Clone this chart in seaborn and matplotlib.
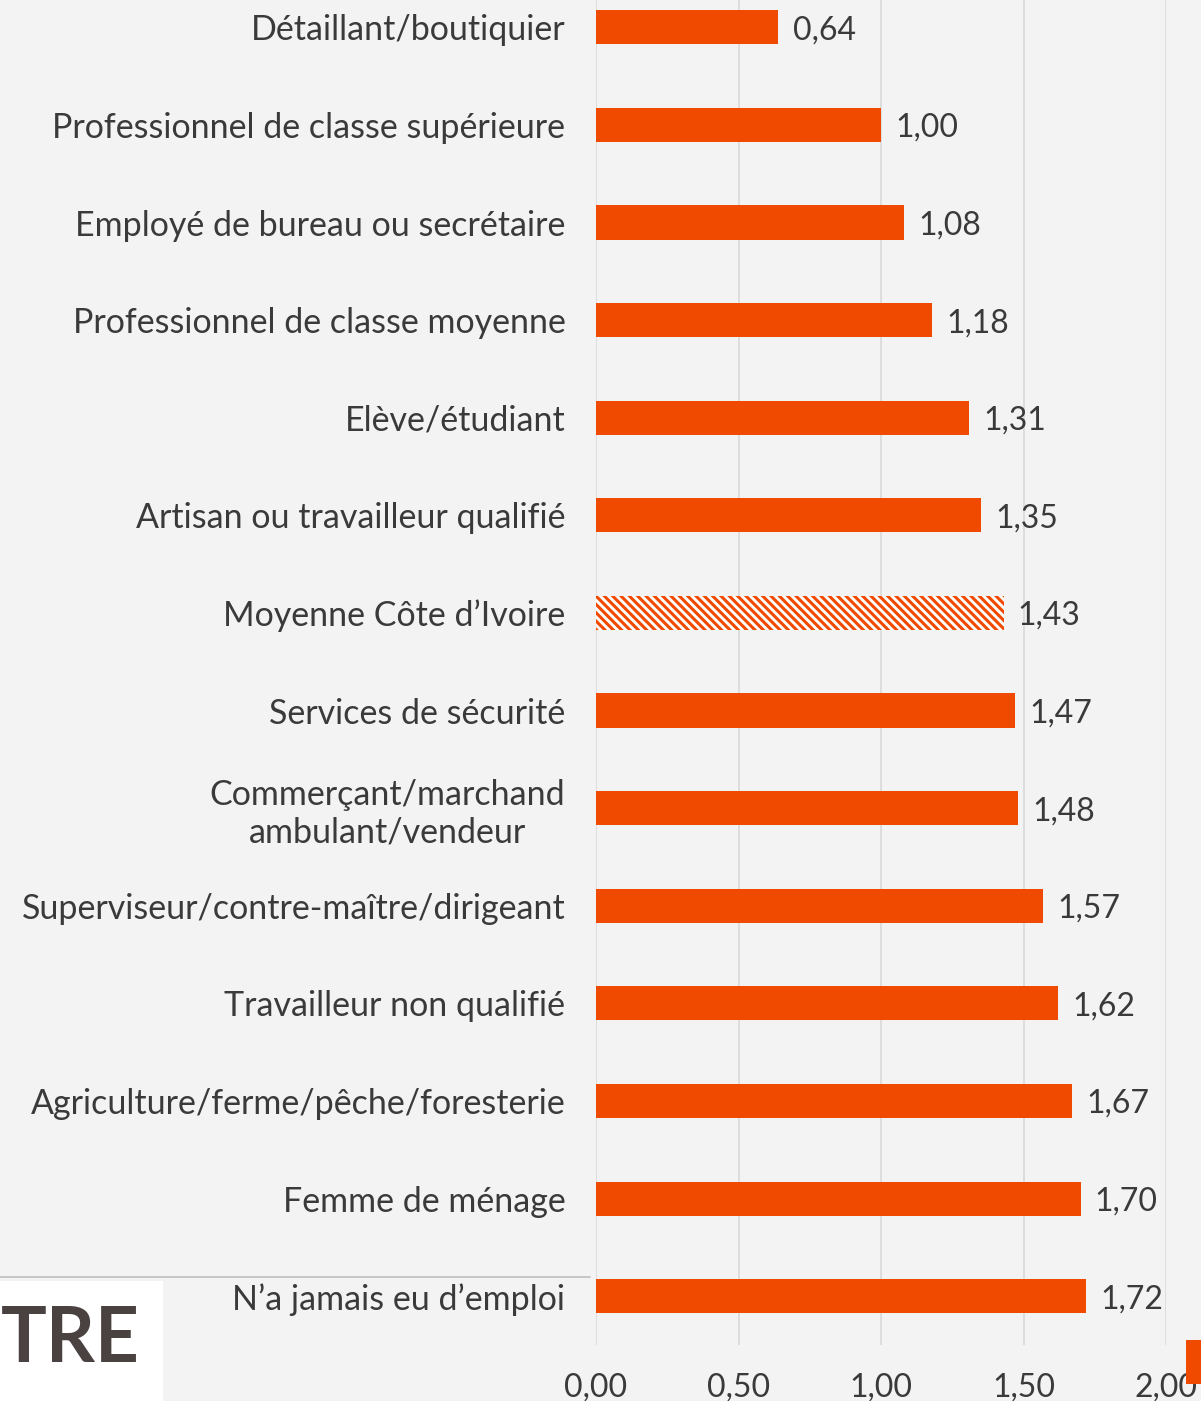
import matplotlib
matplotlib.use("Agg")
import matplotlib.pyplot as plt
import seaborn as sns
import pandas as pd

# Occupations, top to bottom
categories = [
    "Détaillant/boutiquier",
    "Professionnel de classe supérieure",
    "Employé de bureau ou secrétaire",
    "Professionnel de classe moyenne",
    "Elève/étudiant",
    "Artisan ou travailleur qualifié",
    "Moyenne Côte d’Ivoire",
    "Services de sécurité",
    "Commerçant/marchand\nambulant/vendeur",
    "Superviseur/contre-maître/dirigeant",
    "Travailleur non qualifié",
    "Agriculture/ferme/pêche/foresterie",
    "Femme de ménage",
    "N’a jamais eu d’emploi",
]
values = [0.64, 1.00, 1.08, 1.18, 1.31, 1.35, 1.43, 1.47, 1.48, 1.57, 1.62, 1.67, 1.70, 1.72]
average_label = "Moyenne Côte d’Ivoire"
xticks = [0.0, 0.5, 1.0, 1.5, 2.0]

df = pd.DataFrame({"Catégorie": categories, "Valeur": values})

sns.set_style("white")
plt.rcParams["font.family"] = ["Lato", "DejaVu Sans"]
plt.rcParams["hatch.linewidth"] = 2.2

orange = "#f04a00"
text_col = "#3a3a3a"
bg = "#f3f3f3"

fig = plt.figure(figsize=(12.01, 14.01), dpi=100, facecolor=bg)
ax = fig.add_axes([596 / 1201, 56 / 1401, 570 / 1201, 1 - 56 / 1401])
ax.set_facecolor(bg)

sns.barplot(data=df, x="Valeur", y="Catégorie", orient="h", color=orange,
            width=0.35, saturation=1, ax=ax)

for patch, cat in zip(ax.patches, categories):
    patch.set_edgecolor("none")
    if cat == average_label:
        patch.set_facecolor("white")
        patch.set_edgecolor(orange)
        patch.set_linewidth(0)
        patch.set_hatch("\\\\\\\\")

for i, v in enumerate(values):
    ax.text(v + 0.05, i + 0.03, f"{v:.2f}".replace(".", ","), va="center", ha="left",
            fontsize=23, color=text_col)

ax.set_xlim(0, 2)
ax.set_ylim(13.5, -0.28)
ax.set_xticks(xticks)
ax.set_xticklabels([f"{t:.2f}".replace(".", ",") for t in xticks], fontsize=23, color=text_col)
ax.tick_params(axis="x", length=0, pad=20)
ax.tick_params(axis="y", length=0, pad=22, labelsize=24.5, labelcolor=text_col)
for lab in ax.get_yticklabels():
    lab.set_multialignment("center")
ax.xaxis.grid(True, color="#d9d9d9", linewidth=1.2)
ax.set_axisbelow(True)
for s in ax.spines.values():
    s.set_visible(False)
ax.set_xlabel("")
ax.set_ylabel("")

# decorations: bottom-left logo box, separator line, small orange tab
fig.add_artist(plt.Line2D([0, 590 / 1201], [1 - 1277 / 1401] * 2, color="#bdbdbd", lw=1.2))
fig.add_artist(plt.Rectangle((0, 0), 163 / 1201, (1401 - 1281) / 1401, color="white", lw=0))
fig.text(1 / 1201, 1 - 1340 / 1401, "TRE", fontsize=55, fontweight="bold", color="#4a4240",
         va="center", ha="left")
fig.add_artist(plt.Rectangle((1186 / 1201, 1 - 1384 / 1401), 15 / 1201, 44 / 1401,
                             color=orange, lw=0))

fig.savefig("out.png", dpi=100, facecolor=bg)
